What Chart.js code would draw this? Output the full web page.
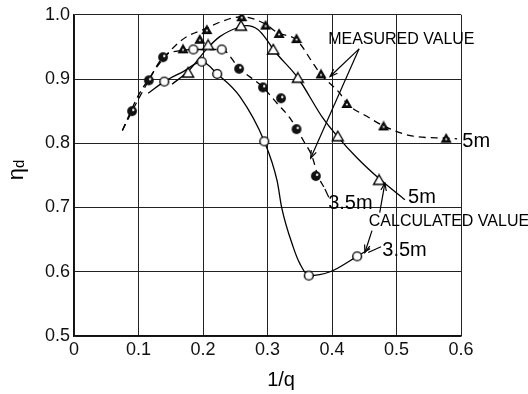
<!DOCTYPE html>
<html><head><meta charset="utf-8">
<script src="https://cdn.jsdelivr.net/npm/chart.js@4.4.1/dist/chart.umd.min.js"></script>
<style>html,body{margin:0;padding:0;background:#fff;}</style>
</head><body>
<canvas id="c" width="528" height="394"></canvas>
<script>
// ---------- tick labels ----------
const xTickLabels = ['0','0.1','0.2','0.3','0.4','0.5','0.6'];
const yTickLabels = ['0.5','0.6','0.7','0.8','0.9','1.0'];

// ---------- calculated 3.5 m (solid curve, open circles) ----------
const calc35CurveX = [0.115,0.14,0.17,0.198,0.222,0.257,0.295,0.315,0.322,0.34,0.35,0.364,0.397,0.439,0.459];
const calc35CurveY = [0.878,0.896,0.912,0.927,0.908,0.873,0.803,0.741,0.70,0.638,0.613,0.594,0.600,0.624,0.636];
const calc35PtsX = [0.14,0.198,0.222,0.295,0.364,0.439];
const calc35PtsY = [0.896,0.927,0.908,0.803,0.594,0.624];

// ---------- calculated 5 m (solid curve, open triangles) ----------
const calc5CurveX = [0.152,0.177,0.206,0.226,0.257,0.268,0.285,0.299,0.309,0.347,0.386,0.409,0.439,0.473,0.513];
const calc5CurveY = [0.892,0.912,0.947,0.966,0.981,0.983,0.977,0.961,0.946,0.902,0.839,0.810,0.777,0.745,0.712];
const calc5PtsX = [0.177,0.208,0.259,0.309,0.347,0.409,0.473];
const calc5PtsY = [0.910,0.953,0.983,0.946,0.902,0.811,0.743];

// ---------- measured 3.5 m (dashed curve, dark circles) ----------
const meas35CurveX = [0.075,0.09,0.116,0.138,0.17,0.185,0.229,0.256,0.293,0.315,0.335,0.358,0.369,0.378,0.389];
const meas35CurveY = [0.82,0.85,0.898,0.934,0.945,0.946,0.946,0.917,0.887,0.862,0.839,0.800,0.780,0.750,0.729];
const meas35PtsX = [0.09,0.116,0.138,0.256,0.293,0.321,0.345,0.375];
const meas35PtsY = [0.85,0.898,0.934,0.916,0.887,0.870,0.822,0.749];
const meas35OpenX = [0.185,0.229];
const meas35OpenY = [0.946,0.946];

// ---------- measured 5 m (dashed curve, dark triangles) ----------
const meas5CurveX = [0.075,0.1,0.116,0.133,0.155,0.175,0.203,0.23,0.26,0.296,0.316,0.345,0.371,0.383,0.412,0.423,0.454,0.48,0.526,0.577,0.594];
const meas5CurveY = [0.82,0.875,0.90,0.925,0.95,0.966,0.978,0.99,0.997,0.986,0.972,0.961,0.924,0.907,0.878,0.862,0.842,0.827,0.811,0.808,0.807];
const meas5PtsX = [0.169,0.195,0.206,0.26,0.297,0.318,0.345,0.383,0.423,0.48,0.577];
const meas5PtsY = [0.947,0.962,0.977,0.997,0.984,0.971,0.963,0.908,0.862,0.827,0.808];

const FONT = "'Liberation Sans', Arial, sans-serif";
const zip = (xs, ys) => xs.map((x, i) => ({x, y: ys[i]}));

// ---------- marker images ----------
function mk(w, h, draw) { const c = document.createElement('canvas'); c.width = w; c.height = h; draw(c.getContext('2d')); return c; }
const openCircle = mk(12, 12, g => { g.beginPath(); g.arc(6,6,4.4,0,Math.PI*2); g.fillStyle='#fff'; g.fill(); g.lineWidth=1.4; g.strokeStyle='#000'; g.stroke(); });
const darkCircle = mk(12, 12, g => { g.beginPath(); g.arc(6,6,4.9,0,Math.PI*2); g.fillStyle='#111'; g.fill(); g.beginPath(); g.arc(7.2,4.8,1.2,0,Math.PI*2); g.fillStyle='#fff'; g.fill(); });
const openTri = mk(14, 13, g => { g.beginPath(); g.moveTo(7,1.5); g.lineTo(12.5,11); g.lineTo(1.5,11); g.closePath(); g.fillStyle='#fff'; g.fill(); g.lineWidth=1.4; g.strokeStyle='#000'; g.stroke(); });
const darkTri = mk(12, 11, g => { g.beginPath(); g.moveTo(6,1.5); g.lineTo(10.5,9.5); g.lineTo(1.5,9.5); g.closePath(); g.fillStyle='#111'; g.fill(); g.lineWidth=1.2; g.strokeStyle='#000'; g.stroke(); g.beginPath(); g.arc(6,6.5,1,0,Math.PI*2); g.fillStyle='#fff'; g.fill(); });

function curve(data, dashed) {
  return { data, showLine: true, borderColor: '#000', borderWidth: 1.3, borderDash: dashed ? [7,5] : [],
    pointRadius: 0, cubicInterpolationMode: 'monotone', order: 2, fill: false };
}
function marks(data, img) {
  return { data, showLine: false, pointStyle: img, pointRadius: 5, order: 1 };
}

// ---------- annotations ----------
function arrow(ctx, x1, y1, x2, y2, head) {
  ctx.beginPath(); ctx.moveTo(x1, y1); ctx.lineTo(x2, y2); ctx.stroke();
  if (head) {
    const a = Math.atan2(y2 - y1, x2 - x1), L = 8;
    ctx.beginPath();
    ctx.moveTo(x2 - L*Math.cos(a - 0.35), y2 - L*Math.sin(a - 0.35));
    ctx.lineTo(x2, y2);
    ctx.lineTo(x2 - L*Math.cos(a + 0.35), y2 - L*Math.sin(a + 0.35));
    ctx.stroke();
  }
}
const annot = {
  id: 'annot',
  afterDraw(chart) {
    const ctx = chart.ctx, xs = chart.scales.x, ys = chart.scales.y;
    const X = v => xs.getPixelForValue(v), Y = v => ys.getPixelForValue(v);
    ctx.save();
    ctx.fillStyle = '#000'; ctx.strokeStyle = '#000'; ctx.lineWidth = 1.2;
    ctx.textBaseline = 'middle'; ctx.textAlign = 'left';
    ctx.font = '16px ' + FONT;
    ctx.fillText('MEASURED VALUE', X(0.394), Y(0.961));
    ctx.fillText('CALCULATED VALUE', X(0.457), Y(0.678));
    ctx.font = '20px ' + FONT;
    ctx.fillText('5m', X(0.602), Y(0.803));
    ctx.fillText('5m', X(0.518), Y(0.715));
    ctx.fillText('3.5m', X(0.394), Y(0.707));
    ctx.fillText('3.5m', X(0.478), Y(0.633));
    arrow(ctx, X(0.442), Y(0.947), X(0.397), Y(0.904), true);
    arrow(ctx, X(0.442), Y(0.947), X(0.367), Y(0.777), true);
    arrow(ctx, X(0.474), Y(0.692), X(0.482), Y(0.738), true);
    arrow(ctx, X(0.462), Y(0.664), X(0.451), Y(0.630), true);
    arrow(ctx, X(0.389), Y(0.729), X(0.395), Y(0.716), false);
    arrow(ctx, X(0.456), Y(0.630), X(0.476), Y(0.639), false);
    // axis titles
    ctx.textAlign = 'center';
    ctx.font = '20px ' + FONT;
    ctx.fillText('1/q', X(0.321), chart.chartArea.bottom + 44);
    ctx.translate(17, 170); ctx.rotate(-Math.PI/2);
    ctx.font = '22px ' + FONT; ctx.textAlign = 'right';
    ctx.fillText('η', 2, 0);
    ctx.font = '15px ' + FONT; ctx.textAlign = 'left';
    ctx.fillText('d', 2, 3);
    ctx.restore();
  }
};

new Chart(document.getElementById('c'), {
  type: 'scatter',
  data: { datasets: [
    curve(zip(calc35CurveX, calc35CurveY), false),
    curve(zip(calc5CurveX, calc5CurveY), false),
    curve(zip(meas35CurveX, meas35CurveY), true),
    curve(zip(meas5CurveX, meas5CurveY), true),
    marks(zip(calc35PtsX, calc35PtsY), openCircle),
    marks(zip(calc5PtsX, calc5PtsY), openTri),
    marks(zip(meas35PtsX, meas35PtsY), darkCircle),
    marks(zip(meas35OpenX, meas35OpenY), openCircle),
    marks(zip(meas5PtsX, meas5PtsY), darkTri)
  ]},
  options: {
    responsive: false, animation: false, devicePixelRatio: 1,
    layout: { padding: { left: 0, top: 13, right: 67, bottom: 0 } },
    plugins: { legend: { display: false }, tooltip: { enabled: false } },
    scales: {
      x: { type: 'linear', min: 0, max: 0.6,
        ticks: { stepSize: 0.1, autoSkip: false, maxRotation: 0, padding: 3, color: '#111',
          font: { family: FONT, size: 18 }, callback: v => xTickLabels[Math.round(v*10)] },
        grid: { color: '#222', lineWidth: 1, drawTicks: false },
        border: { color: '#111', width: 1.5 },
        afterFit: s => { s.height = 58; } },
      y: { type: 'linear', min: 0.5, max: 1.0,
        ticks: { stepSize: 0.1, autoSkip: false, padding: 4, color: '#111',
          font: { family: FONT, size: 18 }, callback: v => yTickLabels[Math.round(v*10) - 5] },
        grid: { color: '#222', lineWidth: 1, drawTicks: false },
        border: { color: '#111', width: 1.5 },
        afterFit: s => { s.width = 74; } }
    }
  },
  plugins: [annot]
});
</script>
</body></html>
